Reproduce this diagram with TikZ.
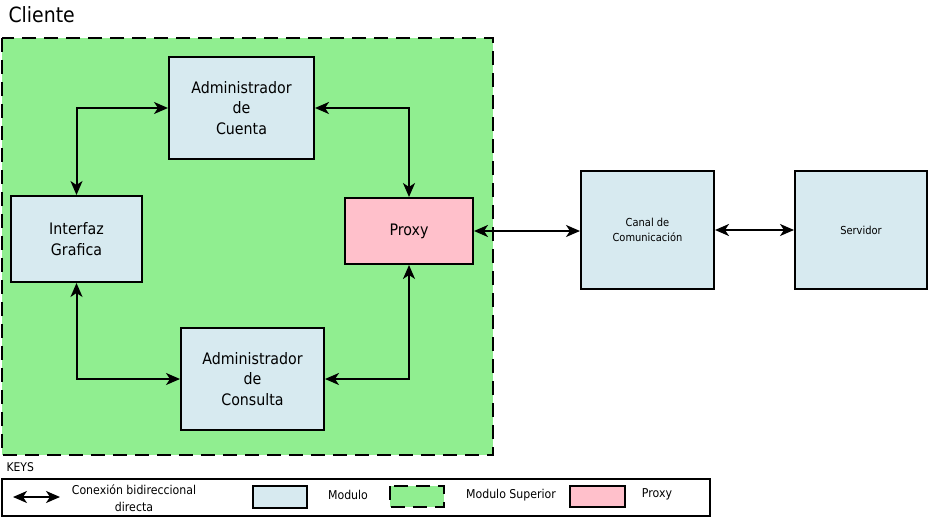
\documentclass[tikz,border=0pt]{standalone}
\usepackage{fontspec}
\setmainfont[FakeStretch=0.9]{DejaVu Sans}
\usetikzlibrary{arrows.meta}
\definecolor{modblue}{HTML}{D7EAF0}
\definecolor{supgreen}{HTML}{90EE90}
\definecolor{proxpink}{HTML}{FFC0CB}

\begin{document}
\begin{tikzpicture}[x=1pt, y=-1pt]
				\tikzset{modulo/.style = {draw, line width=2pt, fill=modblue, align=center, inner sep=0pt},
					superior/.style = {draw, line width=2pt, fill=supgreen, dash pattern=on 14pt off 8pt},
					conexion/.style = {line width=2pt, {Stealth[length=14pt,width=12pt,inset=4pt]}-{Stealth[length=14pt,width=12pt,inset=4pt]}}}
				\useasboundingbox (0,0) rectangle (931,519);
				
				% modulo superior
				\node[anchor=west, font=\fontsize{21}{24}\selectfont] (label_cliente) at (5,15) {Cliente};
				\draw[superior] (2,38) rectangle (493,455);
				
				\node[modulo, minimum width=145pt, minimum height=102pt, font=\fontsize{15.8}{20.5}\selectfont] (cuenta) at (241.5,108) {Administrador\\de\\Cuenta};
				\node[modulo, minimum width=131pt, minimum height=86pt, font=\fontsize{15.8}{20.5}\selectfont] (interfaz) at (76.5,239) {Interfaz\\Grafica};
				\node[modulo, fill=proxpink, minimum width=128pt, minimum height=66pt, font=\fontsize{15.8}{18}\selectfont] (proxy) at (409,231) {Proxy};
				\node[modulo, minimum width=143pt, minimum height=102pt, font=\fontsize{15.8}{20.5}\selectfont] (consulta) at (252.5,379) {Administrador\\de\\Consulta};
				\node[modulo, minimum width=133pt, minimum height=118pt, font=\fontsize{11}{15.5}\selectfont] (canal) at (647.5,230) {Canal de\\Comunicación};
				\node[modulo, minimum width=132pt, minimum height=118pt, font=\fontsize{11}{13}\selectfont] (servidor) at (861,230) {Servidor};
				
				\draw[conexion] (interfaz.north) |- (cuenta.west);
				\draw[conexion] (cuenta.east) -| (proxy.north);
				\draw[conexion] (interfaz.south) |- (consulta.west);
				\draw[conexion] (consulta.east) -| (proxy.south);
				\draw[conexion] (proxy.east) -- (proxy.east -| canal.west);
				\draw[conexion] (canal.east) -- (canal.east -| servidor.west);
				
				% keys
				\node[anchor=west, font=\fontsize{12}{14}\selectfont] (label_keys) at (3,467) {KEYS};
				\draw[line width=2pt] (2,479) rectangle (710,516);
				\coordinate (key_a) at (13,497);
				\coordinate (key_b) at (60,497);
				\draw[conexion] (key_a) -- (key_b);
				\node[font=\fontsize{12.2}{16.5}\selectfont, align=center] (label_conexion) at (134,498) {Conexión bidireccional\\directa};
				\node[modulo, minimum width=54pt, minimum height=22pt] (key_modulo) at (280,497) {};
				\node[font=\fontsize{12.2}{14}\selectfont] (label_modulo) at (348,495) {Modulo};
				\draw[superior] (390,486) rectangle (444,507);
				\node[font=\fontsize{12.2}{14}\selectfont] (label_superior) at (511,495) {Modulo Superior};
				\node[modulo, fill=proxpink, minimum width=55pt, minimum height=21pt] (key_proxy) at (597,496.5) {};
				\node[font=\fontsize{12.2}{14}\selectfont] (label_proxy) at (657,494) {Proxy};
				
			\end{tikzpicture}
\end{document}
